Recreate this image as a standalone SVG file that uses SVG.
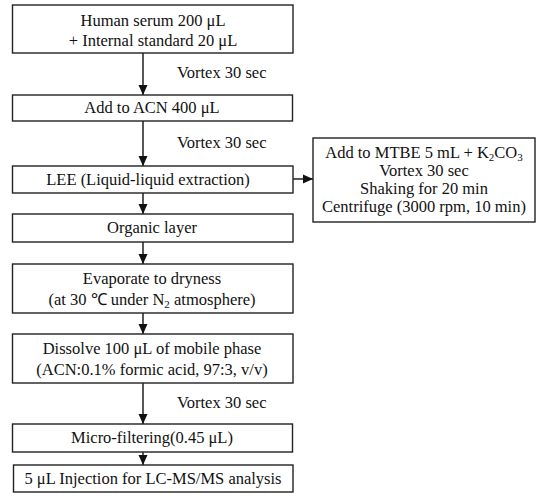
<svg xmlns="http://www.w3.org/2000/svg" width="538" height="502" viewBox="0 0 538 502" font-family="'Liberation Serif', 'Times New Roman', serif">
<style>
  .box{fill:#fff;stroke:#222;stroke-width:1.4}
  .t{font-family:'Liberation Serif','Times New Roman',serif;font-size:16.5px;fill:#111;text-anchor:middle}
  .l{font-family:'Liberation Serif','Times New Roman',serif;font-size:16.5px;fill:#111}
  .sub{font-size:11px}
  .c{stroke:#111;stroke-width:1.4;fill:none}
</style>
<defs>
  <marker id="ah" markerWidth="10" markerHeight="10" refX="10" refY="5" orient="auto" markerUnits="userSpaceOnUse">
    <path d="M0,0.5 L10,5 L0,9.5 Z" fill="#111"/>
  </marker>
</defs>
<rect width="538" height="502" fill="#fff"/>
<g id="connectors">
  <line class="c" x1="143" y1="53" x2="143" y2="95" marker-end="url(#ah)"/>
  <line class="c" x1="143" y1="121" x2="143" y2="166" marker-end="url(#ah)"/>
  <line class="c" x1="293" y1="179" x2="313" y2="179" marker-end="url(#ah)"/>
  <line class="c" x1="143" y1="193" x2="143" y2="214" marker-end="url(#ah)"/>
  <line class="c" x1="143" y1="242" x2="143" y2="264" marker-end="url(#ah)"/>
  <line class="c" x1="143" y1="313" x2="143" y2="334" marker-end="url(#ah)"/>
  <line class="c" x1="143" y1="383" x2="143" y2="424" marker-end="url(#ah)"/>
  <line class="c" x1="143" y1="452" x2="143" y2="465" marker-end="url(#ah)"/>
  <text class="l" x="177" y="78">Vortex 30 sec</text>
  <text class="l" x="177" y="148">Vortex 30 sec</text>
  <text class="l" x="177" y="408">Vortex 30 sec</text>
</g>
<g id="n1">
  <rect class="box" x="12.5" y="5" width="280.5" height="48"/>
  <text class="t" x="153" y="26">Human serum 200 μL</text>
  <text class="t" x="153" y="46">+  Internal standard 20 μL</text>
</g>
<g id="n2">
  <rect class="box" x="12.5" y="95" width="280" height="26"/>
  <text class="t" x="152" y="113">Add to ACN 400 μL</text>
</g>
<g id="n3">
  <rect class="box" x="12.5" y="166" width="280.5" height="27"/>
  <text class="t" x="148" y="184.5">LEE (Liquid-liquid extraction)</text>
</g>
<g id="n4">
  <rect class="box" x="313" y="138" width="222" height="84"/>
  <text class="t" x="424" y="158">Add to MTBE 5 mL +  K<tspan class="sub" dy="3">2</tspan><tspan dy="-3">CO</tspan><tspan class="sub" dy="3">3</tspan></text>
  <text class="t" x="424" y="176">Vortex 30 sec</text>
  <text class="t" x="424" y="194">Shaking for 20 min</text>
  <text class="t" x="424" y="212">Centrifuge (3000 rpm, 10 min)</text>
</g>
<g id="n5">
  <rect class="box" x="12.5" y="214" width="280.5" height="28"/>
  <text class="t" x="152" y="233">Organic layer</text>
</g>
<g id="n6">
  <rect class="box" x="12.5" y="264" width="280.5" height="49"/>
  <text class="t" x="152" y="284">Evaporate to dryness</text>
  <text class="t" x="152" y="305">(at 30  ℃  under N<tspan class="sub" dy="3">2</tspan><tspan dy="-3"> atmosphere)</tspan></text>
</g>
<g id="n7">
  <rect class="box" x="12.5" y="334" width="280.5" height="49"/>
  <text class="t" x="152" y="354">Dissolve 100 μL of mobile phase</text>
  <text class="t" x="152" y="375">(ACN:0.1% formic acid, 97:3, v/v)</text>
</g>
<g id="n8">
  <rect class="box" x="12.5" y="424" width="280" height="28"/>
  <text class="t" x="152" y="443">Micro-filtering(0.45 μL)</text>
</g>
<g id="n9">
  <rect class="box" x="13.5" y="465" width="279.5" height="27"/>
  <text class="t" x="153" y="483.5">5 μL Injection for LC-MS/MS analysis</text>
</g>
</svg>
